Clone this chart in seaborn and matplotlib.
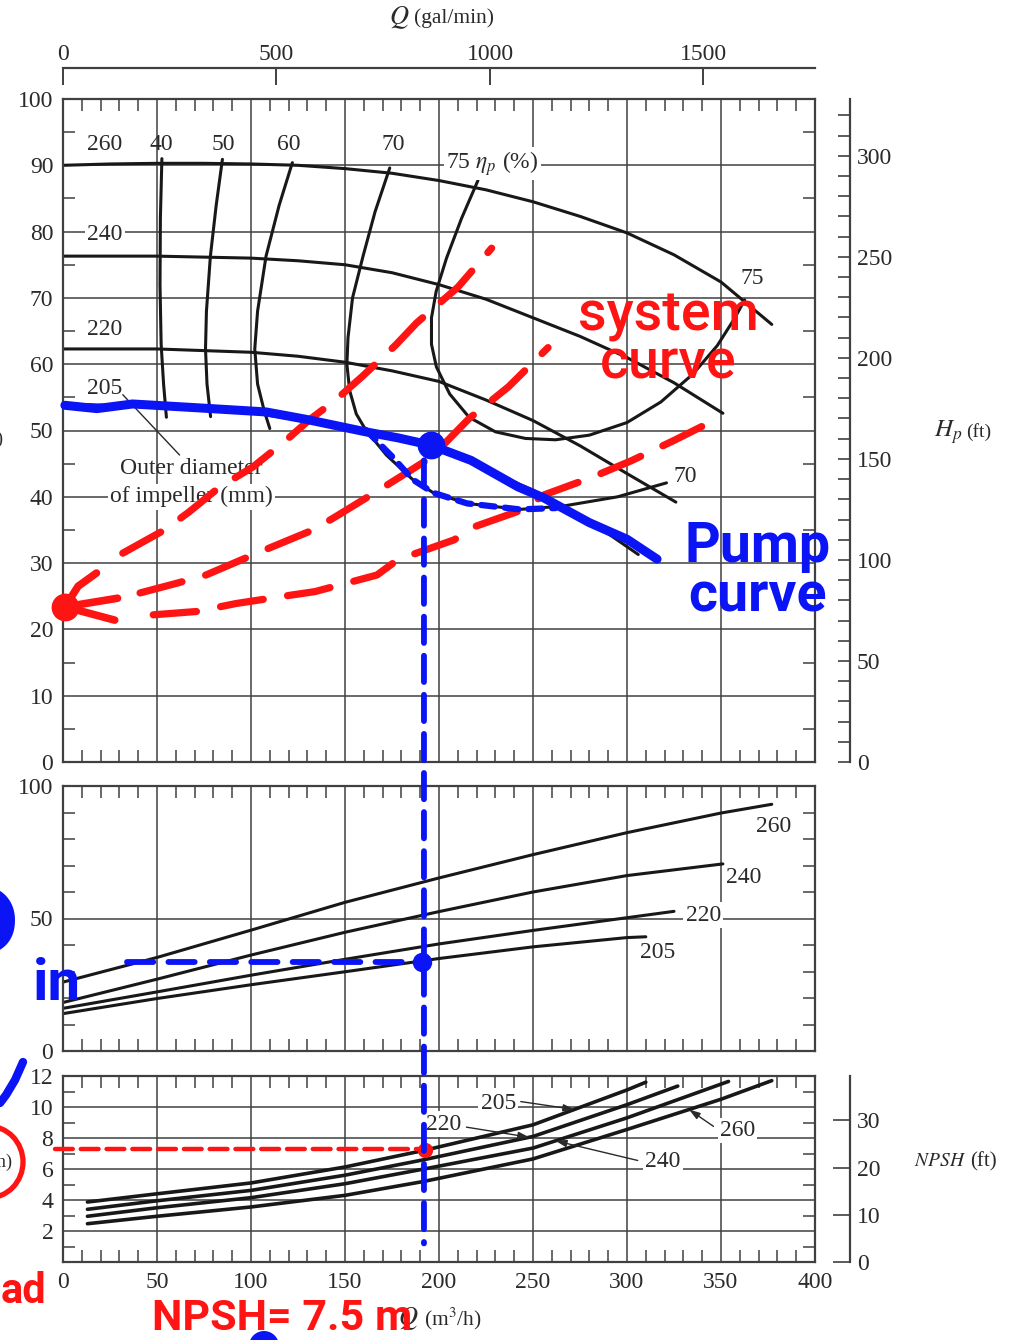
import numpy as np
import pandas as pd
import matplotlib
matplotlib.use("Agg")
import matplotlib.pyplot as plt
import seaborn as sns
from matplotlib.ticker import MultipleLocator
from matplotlib.patches import Ellipse, ConnectionPatch
from matplotlib.lines import Line2D

# ---------------------------------------------------------------- data
gpm_ticks = [0, 500, 1000, 1500]
ft_ticks_head = [0, 50, 100, 150, 200, 250, 300]
ft_ticks_npsh = [0, 10, 20, 30]
npsh_ticks = [0, 2, 4, 6, 8, 10, 12]
npsh_ticklabels = ["", "2", "4", "6", "8", "10", "12"]

# pump head (m) vs Q (m3/h) for impeller diameters (mm)
head_q_260 = [0, 25, 50, 75, 100, 125, 150, 175, 200, 225, 250, 275, 300, 325, 350, 377]
head_h_260 = [90.0, 90.2, 90.3, 90.3, 90.2, 90.0, 89.5, 88.8, 87.7, 86.3, 84.5, 82.3, 79.8, 76.5, 72.4, 66.0]
head_q_240 = [0, 50, 100, 125, 150, 175, 200, 225, 250, 275, 300, 325, 351]
head_h_240 = [76.3, 76.3, 76.0, 75.6, 75.0, 73.8, 72.0, 69.8, 67.0, 64.2, 61.0, 57.2, 52.6]
head_q_220 = [0, 50, 100, 125, 150, 175, 200, 225, 250, 275, 300, 326]
head_h_220 = [62.3, 62.3, 61.8, 61.2, 60.3, 59.0, 57.4, 54.6, 51.5, 47.7, 43.5, 39.2]
head_q_205 = [0, 50, 100, 150, 200, 250, 280, 306]
head_h_205 = [54.0, 53.6, 52.7, 50.5, 47.2, 41.0, 36.4, 31.3]

# efficiency contours (%)
eta_q_40 = [52.6, 51.8, 51.6, 52.2, 53.5, 55.0]
eta_h_40 = [91, 82, 72, 63, 57, 52]
eta_q_50 = [84.8, 81.5, 78.4, 76.3, 75.8, 76.6, 78.5]
eta_h_50 = [90.9, 84, 76.3, 68, 62.3, 57, 52.1]
eta_q_60 = [122, 115, 108, 103.5, 102, 103.5, 107, 110]
eta_h_60 = [90.4, 84, 76.3, 68, 62.3, 57, 53, 50.3]
eta_q_70 = [173.8, 166, 159.6, 154, 151.6, 151, 152.5, 156, 161, 172, 186, 197, 215, 243, 266, 295, 321]
eta_h_70 = [89.6, 83, 76.3, 70, 64, 60, 56, 52.5, 50.1, 46.3, 42.6, 40.6, 39.0, 38.1, 38.6, 40.0, 42.1]
eta_q_75 = [220.7, 212, 204, 198.5, 196, 196, 198.6, 205.7, 216, 230, 246, 262, 280, 300, 318, 335, 348, 357, 362.6]
eta_h_75 = [87.7, 82, 76, 71, 67, 63, 59.6, 55.5, 52, 49.8, 48.8, 48.6, 49.3, 51.2, 54.3, 58.5, 62.8, 66.8, 69.7]

# brake power (kW)
pow_q_260 = [0, 50, 100, 150, 200, 250, 300, 350, 377]
pow_p_260 = [26.0, 35.3, 45.6, 56.1, 65.3, 74.1, 82.4, 89.8, 93.1]
pow_q_240 = [0, 50, 100, 150, 200, 250, 300, 351]
pow_p_240 = [18.3, 27.1, 36.2, 44.8, 52.6, 60.0, 66.2, 70.6]
pow_q_220 = [0, 50, 100, 150, 200, 250, 300, 325]
pow_p_220 = [16.1, 22.3, 28.6, 34.6, 40.4, 45.5, 50.3, 52.7]
pow_q_205 = [0, 50, 100, 150, 200, 250, 300, 310]
pow_p_205 = [14.1, 19.8, 25.0, 29.9, 34.9, 39.3, 42.8, 43.1]

# NPSH required (m)
npsh_q_205 = [13, 50, 100, 150, 192, 250, 300, 310]
npsh_n_205 = [3.87, 4.4, 5.1, 6.13, 7.2, 8.85, 11.1, 11.6]
npsh_q_220 = [13, 50, 100, 150, 192, 250, 300, 327]
npsh_n_220 = [3.4, 3.95, 4.62, 5.6, 6.6, 8.1, 10.15, 11.35]
npsh_q_240 = [13, 50, 100, 150, 192, 250, 300, 354]
npsh_n_240 = [2.95, 3.5, 4.15, 5.05, 6.0, 7.35, 9.3, 11.65]
npsh_q_260 = [13, 50, 100, 150, 192, 250, 300, 350, 377]
npsh_n_260 = [2.47, 2.95, 3.55, 4.3, 5.2, 6.65, 8.55, 10.5, 11.7]

# hand-drawn annotations
pump_q = [1, 18, 37, 73, 108, 129, 161, 178, 195.5, 217, 242, 256, 280, 300, 316]
pump_h = [53.8, 53.3, 54.0, 53.4, 52.8, 51.7, 49.8, 48.9, 47.8, 45.5, 41.5, 39.8, 36.1, 33.6, 30.6]
trace_q = [161, 175, 186, 197, 215, 243, 262]
trace_h = [50.1, 46.1, 42.6, 40.6, 39.0, 38.1, 38.3]
sys1_q = [31.8, 54, 67, 83, 101, 119, 131, 145, 159, 177, 188, 210, 228]
sys1_h = [31.5, 35, 37.7, 41.4, 44.5, 48.6, 51.6, 54.6, 58.1, 62.9, 66.2, 71.6, 77.5]
sys2_q = [41, 61, 76, 95, 110, 133, 145, 168, 185, 196, 216, 237, 258]
sys2_h = [25.5, 27.0, 28.2, 30.5, 32.3, 35.0, 37.0, 41.0, 44.0, 46.0, 51.8, 56.6, 62.5]
sys3_q = [48, 71, 92, 122, 134, 167, 178, 208, 219, 242, 256, 281, 302, 325, 351]
sys3_h = [22.2, 22.7, 23.9, 25.2, 25.7, 28.2, 30.5, 33.5, 35.5, 37.8, 40.3, 42.9, 45.4, 48.5, 52.2]
arrow_tip = (1.1, 23.4)
arrow_barbs_q = [[1.1, 8, 17.8], [1.1, 29], [1.1, 27.5]]
arrow_barbs_h = [[23.4, 26.5, 28.5], [23.4, 24.7], [23.4, 21.4]]
op_q, op_h = 195.5, 47.8
vline_q, vline_top_h, vline_bottom_n = 192, 45.5, 1.2
pin_q0, pin_q1, pin_p = 34, 191, 33.5
npsh_line_q0, npsh_line_q1, npsh_line_n = -4.2, 192, 7.3
npsh_dot_q, npsh_dot_n = 192.5, 7.2

# ---------------------------------------------------------------- style
sns.set_theme(style="white")
plt.rcParams["font.family"] = ["Liberation Serif", "DejaVu Serif"]
plt.rcParams["mathtext.fontset"] = "stix"

W, H = 1015, 1340
GRID = "#404040"
TXT = "#2a2a2a"
CURVE = "#181818"
RED = "#ff1414"
BLUE = "#0a14f5"
HAND = ["Roboto", "DejaVu Sans"]

fig = plt.figure(figsize=(W / 100, H / 100), dpi=100)
fig.patch.set_facecolor("white")


def ax_px(l, t, r, b):
    return fig.add_axes([l / W, 1 - b / H, (r - l) / W, (b - t) / H])


def fx(x):
    return x / W


def fy(y):
    return 1 - y / H


def style(ax, ymax, ymajor, yminor):
    ax.set_facecolor("white")
    ax.set_xlim(0, 400)
    ax.set_ylim(0, ymax)
    ax.xaxis.set_major_locator(MultipleLocator(50))
    ax.xaxis.set_minor_locator(MultipleLocator(10))
    ax.yaxis.set_major_locator(MultipleLocator(ymajor))
    ax.yaxis.set_minor_locator(MultipleLocator(yminor))
    ax.grid(True, which="major", color=GRID, linewidth=1.1)
    ax.set_axisbelow(True)
    for s in ax.spines.values():
        s.set_visible(True)
        s.set_color(GRID)
        s.set_linewidth(1.6)
    ax.tick_params(which="both", direction="in", top=True, right=True,
                   bottom=True, left=True, color=GRID)
    ax.tick_params(which="minor", length=8.5, width=1.1)
    ax.tick_params(which="major", length=0, labelsize=17, pad=7, labelcolor=TXT)
    ax.set_xlabel("")
    ax.set_ylabel("")


ax1 = ax_px(63, 99, 815, 762)
ax2 = ax_px(63, 786, 815, 1051)
ax3 = ax_px(63, 1076, 815, 1262)
style(ax1, 100, 10, 5)
style(ax2, 100, 50, 10)
style(ax3, 12, 2, 1)
ax1.tick_params(labelbottom=False)
ax2.tick_params(labelbottom=False)
ax3.set_yticks(npsh_ticks)
ax3.set_yticklabels(npsh_ticklabels)
ax3.yaxis.set_minor_locator(MultipleLocator(1))


def curve(ax, q, v, **kw):
    opts = dict(color=CURVE, lw=2.2, sort=False, estimator=None, legend=False)
    opts.update(kw)
    sns.lineplot(x=q, y=v, ax=ax, **opts)


# head curves
for q, h in [(head_q_260, head_h_260), (head_q_240, head_h_240),
             (head_q_220, head_h_220), (head_q_205, head_h_205)]:
    curve(ax1, q, h)
# efficiency contours
for q, h in [(eta_q_40, eta_h_40), (eta_q_50, eta_h_50), (eta_q_60, eta_h_60),
             (eta_q_70, eta_h_70), (eta_q_75, eta_h_75)]:
    curve(ax1, q, h)
# power curves
for q, p in [(pow_q_260, pow_p_260), (pow_q_240, pow_p_240),
             (pow_q_220, pow_p_220), (pow_q_205, pow_p_205)]:
    curve(ax2, q, p)
# NPSH curves
for q, n in [(npsh_q_205, npsh_n_205), (npsh_q_220, npsh_n_220),
             (npsh_q_240, npsh_n_240), (npsh_q_260, npsh_n_260)]:
    curve(ax3, q, n, lw=2.6)

# secondary axes
sec_gpm = ax1.secondary_xaxis(1 + 31 / 663, functions=(lambda q: q * 4.4029, lambda g: g / 4.4029))
sec_gpm.set_xticks(gpm_ticks)
sec_gpm.tick_params(direction="in", length=12, width=1.4, color=GRID, labelsize=17,
                    pad=2, labelcolor=TXT)
for s in sec_gpm.spines.values():
    s.set_color(GRID)
    s.set_linewidth(1.6)

sec_ft = ax1.secondary_yaxis(1 + 35 / 752, functions=(lambda m: m / 0.3048, lambda f: f * 0.3048))
sec_ft.set_yticks(ft_ticks_head)
sec_ft.yaxis.set_minor_locator(MultipleLocator(10))
sec_ft.tick_params(which="both", direction="in", length=9, width=1.2, color=GRID)
sec_ft.tick_params(which="major", labelsize=17, pad=5, labelcolor=TXT)
for s in sec_ft.spines.values():
    s.set_color(GRID)
    s.set_linewidth(1.6)

sec_nft = ax3.secondary_yaxis(1 + 35 / 752, functions=(lambda m: m / 0.3048, lambda f: f * 0.3048))
sec_nft.set_yticks(ft_ticks_npsh)
sec_nft.tick_params(which="both", direction="in", length=12, width=1.2, color=GRID,
                    labelsize=17, pad=5, labelcolor=TXT)
for s in sec_nft.spines.values():
    s.set_color(GRID)
    s.set_linewidth(1.6)

# axis titles
tkw = dict(color=TXT, va="center")
fig.text(fx(409), fy(18), "$Q$", fontsize=19, ha="right", **tkw)
fig.text(fx(414), fy(18), "(gal/min)", fontsize=15.5, ha="left", **tkw)
fig.text(fx(418), fy(1319), "$Q$", fontsize=19, ha="right", **tkw)
fig.text(fx(424), fy(1319), "(m$^3$/h)", fontsize=15.5, ha="left", **tkw)
fig.text(fx(963), fy(432), "$H_p$", fontsize=18, ha="right", **tkw)
fig.text(fx(966), fy(432), "(ft)", fontsize=14, ha="left", **tkw)
fig.text(fx(966), fy(1162), "$NPSH$", fontsize=14, ha="right", **tkw)
fig.text(fx(970), fy(1162), "(ft)", fontsize=15, ha="left", **tkw)
fig.text(fx(4), fy(440), "$H_p$ (m)", fontsize=13, ha="right", **tkw)
fig.text(fx(13), fy(1162), "$NPSH$ (m)", fontsize=13, ha="right", **tkw)

# labels inside the chart
lkw = dict(fontsize=17, color=TXT, ha="center", va="center")
wbox = dict(facecolor="white", edgecolor="none", pad=1.5)
ax1.text(22.3, 93.1, "260", **lkw)
ax1.text(52.5, 93.1, "40", **lkw)
ax1.text(85.3, 93.1, "50", **lkw)
ax1.text(120.3, 93.1, "60", **lkw)
ax1.text(175.9, 93.1, "70", **lkw)
ax1.text(203.8, 90.2, r"75 $\eta_p$ (%)", fontsize=17, color=TXT, ha="left", va="center", bbox=wbox)
ax1.text(22.3, 79.6, "240", bbox=wbox, **lkw)
ax1.text(22.3, 65.2, "220", bbox=wbox, **lkw)
ax1.text(22.3, 56.4, "205", **lkw)
ax1.text(366.6, 73.0, "75", **lkw)
ax1.text(331, 43.0, "70", **lkw)
ax1.text(68.3, 44.3, "Outer diameter", **lkw)
ax1.text(68.3, 40.0, "of impeller (mm)", bbox=wbox, **lkw)
ax1.plot([31.8, 62], [55.4, 46.3], color=TXT, lw=1)

ax2.text(378, 84.9, "260", **lkw)
ax2.text(362, 65.6, "240", **lkw)
ax2.text(340.5, 51.3, "220", bbox=wbox, **lkw)
ax2.text(316.5, 37.3, "205", **lkw)

npsh_labels = [
    ("205", 231.5, 10.2, 243.5, 10.35, 272, npsh_q_205, npsh_n_205),
    ("220", 202.4, 8.9, 214.6, 8.7, 248, npsh_q_220, npsh_n_220),
    ("240", 319.0, 6.5, 305.7, 6.55, 262, npsh_q_240, npsh_n_240),
    ("260", 358.7, 8.5, 346.0, 8.75, 333, npsh_q_260, npsh_n_260),
]
for txt, tx, ty, sx, sy, qt, qa, na in npsh_labels:
    nt = float(np.interp(qt, qa, na))
    ax3.annotate("", xy=(qt, nt), xytext=(sx, sy),
                 arrowprops=dict(arrowstyle="-|>,head_length=0.55,head_width=0.18",
                                 lw=1.0, color=TXT, shrinkA=0, shrinkB=0))
    ax3.text(tx, ty, txt, bbox=wbox, **lkw)

# ---------------------------------------------------------------- hand annotations
dash_red = dict(color=RED, lw=5.2, linestyle=(0, (6, 3.4)), dash_capstyle="round",
                solid_capstyle="round", clip_on=False, zorder=6)
for q, h in [(sys1_q, sys1_h), (sys2_q, sys2_h), (sys3_q, sys3_h)]:
    ax1.plot(q, h, **dash_red)
for bq, bh in zip(arrow_barbs_q, arrow_barbs_h):
    ax1.plot(bq, bh, color=RED, lw=5.5, solid_capstyle="round", clip_on=False, zorder=6)
ax1.plot([arrow_tip[0]], [arrow_tip[1]], "o", color=RED, ms=19, clip_on=False, zorder=6)

ax1.plot(pump_q, pump_h, color=BLUE, lw=6.5, solid_capstyle="round", zorder=7, clip_on=False)
ax1.plot(trace_q, trace_h, color=BLUE, lw=4.5, linestyle=(0, (2.2, 1.6)),
         dash_capstyle="round", zorder=7)
ax1.plot([op_q], [op_h], "o", color=BLUE, ms=19, zorder=8)

vline = ConnectionPatch(xyA=(vline_q, vline_top_h), coordsA=ax1.transData,
                        xyB=(vline_q, vline_bottom_n), coordsB=ax3.transData,
                        color=BLUE, lw=4.2, linestyle=(0, (4.5, 2.2)), capstyle="round", zorder=9)
fig.add_artist(vline)

ax2.plot([pin_q0, pin_q1], [pin_p, pin_p], color=BLUE, lw=4.2, linestyle=(0, (4.5, 2.6)),
         dash_capstyle="round", zorder=7)
ax2.plot([pin_q1], [pin_p], "o", color=BLUE, ms=13, zorder=8)

ax3.plot([npsh_line_q0, npsh_line_q1], [npsh_line_n, npsh_line_n], color=RED, lw=3.2,
         linestyle=(0, (4, 1.8)), dash_capstyle="round", clip_on=False, zorder=7)
ax3.plot([npsh_dot_q], [npsh_dot_n], "o", color=RED, ms=10, zorder=8)

hkw_b = dict(fontfamily=HAND, fontweight="bold", zorder=10)
hkw_m = dict(fontfamily=HAND, fontweight="medium", zorder=10)
fig.text(fx(668), fy(378), "system\ncurve", fontsize=40, color=RED, ha="center",
         va="baseline", multialignment="center", linespacing=0.85, **hkw_m)
fig.text(fx(758), fy(612), "Pump\ncurve", fontsize=40, color=BLUE, ha="center",
         va="baseline", multialignment="center", linespacing=0.95, **hkw_b)
fig.text(fx(152), fy(1339.5), "NPSH= 7.5 m", fontsize=31, color=RED, ha="left", va="bottom", **hkw_b)
fig.text(fx(1), fy(1303), "ad", fontsize=30, color=RED, ha="left", va="baseline", **hkw_b)
fig.text(fx(20), fy(1003), "P", fontsize=120, color=BLUE, ha="right", va="baseline",
         fontfamily=HAND, zorder=10)
fig.text(fx(33), fy(1000), "in", fontsize=42, color=BLUE, ha="left", va="baseline", **hkw_b)

fig.add_artist(Ellipse((fx(-12), fy(1162)), 70 / W, 72 / H, transform=fig.transFigure,
                       fill=False, edgecolor=RED, lw=3.8, zorder=10))
fig.add_artist(Line2D([fx(23), fx(15), fx(6), fx(0)], [fy(1062), fy(1080), fy(1095), fy(1103)],
                      color=BLUE, lw=6, solid_capstyle="round", zorder=10))
fig.add_artist(Ellipse((fx(264), fy(1346)), 30 / W, 30 / H, transform=fig.transFigure,
                       facecolor=BLUE, edgecolor="none", zorder=10))

fig.savefig("out.png", dpi=100, facecolor="white")
